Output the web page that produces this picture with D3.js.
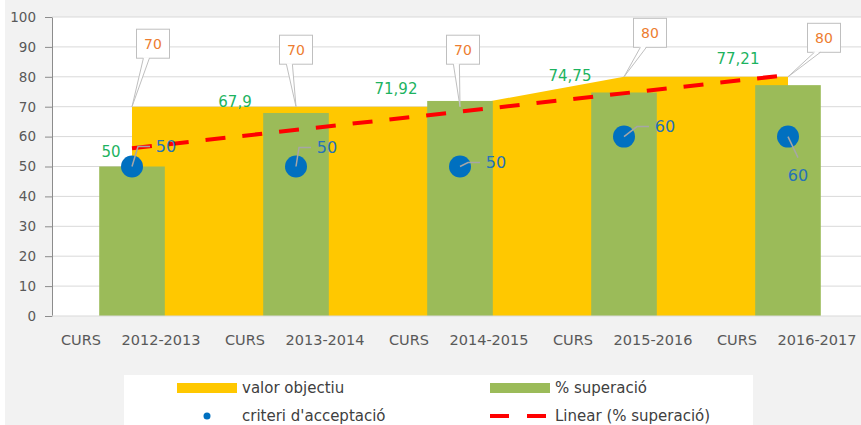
<!DOCTYPE html>
<html>
<head>
<meta charset="utf-8">
<script src="https://cdn.jsdelivr.net/npm/d3@7"></script>
<style>
  html, body { margin: 0; padding: 0; background: #fff; }
  svg { display: block; font-family: "DejaVu Sans", sans-serif; }
</style>
</head>
<body>
<div id="chart"></div>
<script>
// chart data
const categories = ['CURS 2012-2013', 'CURS 2013-2014', 'CURS 2014-2015', 'CURS 2015-2016', 'CURS 2016-2017'];
const valorObjectiu = [70, 70, 70, 80, 80];
const superacio = [50, 67.9, 71.92, 74.75, 77.21];
const criteri = [50, 50, 50, 60, 60];
const yTicks = [0, 10, 20, 30, 40, 50, 60, 70, 80, 90, 100];

// hand placed label offsets (px), as in the original sheet
const calloutDx = [21, 0, 3, 26, 36];
const calloutDy = [-63, -57, -57, -44, -39];
const supDx = [-21, -61, -64, -54, -50];
const supDy = [-15, -11, -12, -17, -27];
const criDx = [34, 31, 36, 41, 10];
const criDy = [-20, -19, -4, -10, 39];

const W = 861, H = 425;
const plot = { left: 52, top: 17, right: 861, bottom: 316 };

const svg = d3.select('#chart').append('svg')
  .attr('width', W)
  .attr('height', H);

svg.append('rect').attr('width', W).attr('height', H).attr('fill', '#f2f2f2');
svg.append('rect').attr('width', 5).attr('height', H).attr('fill', '#fff');
svg.append('rect')
  .attr('x', plot.left).attr('y', plot.top)
  .attr('width', plot.right - plot.left).attr('height', plot.bottom - plot.top)
  .attr('fill', '#fff');

const x = d3.scaleBand()
  .domain(categories)
  .range([50, 870]);

const y = d3.scaleLinear()
  .domain([0, 100])
  .range([plot.bottom, plot.top]);

const cx = (i) => x(categories[i]) + x.bandwidth() / 2;
const fmt = (v) => String(v).replace('.', ',');

// gridlines
svg.append('g')
  .selectAll('line')
  .data(yTicks.slice(1))
  .enter()
  .append('line')
  .attr('x1', plot.left).attr('x2', plot.right)
  .attr('y1', (d) => y(d)).attr('y2', (d) => y(d))
  .attr('stroke', '#d9d9d9')
  .attr('stroke-width', 1);

// valor objectiu area
const area = d3.area()
  .x((d, i) => cx(i))
  .y0(y(0))
  .y1((d) => y(d));

svg.append('path')
  .datum(valorObjectiu)
  .attr('d', area)
  .attr('fill', '#ffc800');

// % superacio bars
const barW = x.bandwidth() * 0.4;
svg.selectAll('.bar')
  .data(superacio)
  .enter()
  .append('rect')
  .attr('class', 'bar')
  .attr('x', (d, i) => cx(i) - barW / 2)
  .attr('y', (d) => y(d))
  .attr('width', barW)
  .attr('height', (d) => y(0) - y(d))
  .attr('fill', '#9bbb59');

// axes
const yAxis = svg.append('g')
  .attr('transform', `translate(${plot.left},0)`)
  .call(d3.axisLeft(y).tickValues(yTicks).tickSizeInner(7).tickSizeOuter(0).tickPadding(9));
yAxis.select('.domain').attr('stroke', '#8c8c8c');
yAxis.selectAll('.tick line').attr('stroke', '#8c8c8c');
yAxis.selectAll('.tick text')
  .attr('fill', '#595959')
  .style('font-size', '13.5px')
  .style('font-family', '"DejaVu Sans", sans-serif');

const xAxis = svg.append('g')
  .attr('transform', `translate(0,${plot.bottom})`)
  .call(d3.axisBottom(x).tickSize(0).tickPadding(0));
xAxis.select('.domain').attr('stroke', '#d9d9d9').attr('d', `M${plot.left},0H${plot.right}`);
xAxis.selectAll('.tick text').each(function (d) {
  const parts = d.split(' ');
  const t = d3.select(this)
    .text(null)
    .attr('y', 29)
    .attr('dy', null)
    .attr('fill', '#595959')
    .style('font-size', '14.5px')
    .style('font-family', '"DejaVu Sans", sans-serif');
  t.append('tspan').attr('x', -51).attr('text-anchor', 'middle').text(parts[0]);
  t.append('tspan').attr('x', 29).attr('text-anchor', 'middle').text(parts[1]);
});

// linear trendline of % superacio
const idx = superacio.map((d, i) => i + 1);
const mx = d3.mean(idx), my = d3.mean(superacio);
const slope = d3.sum(idx, (k, i) => (k - mx) * (superacio[i] - my)) / d3.sum(idx, (k) => (k - mx) ** 2);
const trend = idx.map((k) => my + slope * (k - mx));
const trendEnds = [0, trend.length - 1];

svg.append('path')
  .datum(trendEnds)
  .attr('d', d3.line().x((i) => cx(i)).y((i) => y(trend[i])))
  .attr('fill', 'none')
  .attr('stroke', '#ff0000')
  .attr('stroke-width', 4)
  .attr('stroke-dasharray', '20 17');

// criteri d'acceptacio points
svg.selectAll('.dot')
  .data(criteri)
  .enter()
  .append('circle')
  .attr('class', 'dot')
  .attr('cx', (d, i) => cx(i))
  .attr('cy', (d) => y(d))
  .attr('r', 11)
  .attr('fill', '#0070c0');

// leaders + labels for criteri
criteri.forEach((v, i) => {
  const px = cx(i), py = y(v);
  const lx = px + criDx[i], ly = py + criDy[i];
  let pts;
  if (Math.abs(criDy[i]) > Math.abs(criDx[i])) {
    pts = [[px, py], [lx, ly - 18]];
  } else {
    pts = [[px, py], [lx - 28, ly], [lx - 16, ly]];
  }
  svg.append('path')
    .attr('d', d3.line()(pts))
    .attr('fill', 'none')
    .attr('stroke', '#a6a6a6')
    .attr('stroke-width', 1.5);
  svg.append('text')
    .attr('x', lx).attr('y', ly)
    .attr('dy', '0.36em')
    .attr('text-anchor', 'middle')
    .attr('fill', '#2672b8')
    .style('font-size', '16px')
    .text(fmt(v));
});

// labels for % superacio
svg.selectAll('.sup-label')
  .data(superacio)
  .enter()
  .append('text')
  .attr('class', 'sup-label')
  .attr('x', (d, i) => cx(i) + supDx[i])
  .attr('y', (d, i) => y(d) + supDy[i])
  .attr('dy', '0.36em')
  .attr('text-anchor', 'middle')
  .attr('fill', '#1db35f')
  .style('font-size', '15px')
  .text((d) => fmt(d));

// callouts for valor objectiu
const boxW = 33, boxH = 29;
valorObjectiu.forEach((v, i) => {
  const px = cx(i), py = y(v);
  const bx = px + calloutDx[i] - boxW / 2;
  const by = py + calloutDy[i] - boxH / 2;
  const baseX = bx + boxW * 0.3;
  const g = svg.append('g');
  g.append('rect')
    .attr('x', bx).attr('y', by)
    .attr('width', boxW).attr('height', boxH)
    .attr('fill', '#fff')
    .attr('stroke', '#bfbfbf');
  g.append('path')
    .attr('d', `M${baseX - 3},${by + boxH - 1}L${px},${py}L${baseX + 3},${by + boxH - 1}Z`)
    .attr('fill', '#fff');
  g.append('path')
    .attr('d', `M${baseX - 3},${by + boxH}L${px},${py}L${baseX + 3},${by + boxH}`)
    .attr('fill', 'none')
    .attr('stroke', '#bfbfbf');
  g.append('text')
    .attr('x', bx + boxW / 2).attr('y', by + boxH / 2)
    .attr('dy', '0.36em')
    .attr('text-anchor', 'middle')
    .attr('fill', '#ed7d31')
    .style('font-size', '14px')
    .text(fmt(v));
});

// legend
const legend = svg.append('g');
legend.append('rect')
  .attr('x', 124).attr('y', 375)
  .attr('width', 629).attr('height', 60)
  .attr('fill', '#fff');

const legendItems = [
  { name: 'valor objectiu', kind: 'area', color: '#ffc800', x: 177, y: 388 },
  { name: '% superació', kind: 'bar', color: '#9bbb59', x: 490, y: 388 },
  { name: "criteri d'acceptació", kind: 'dot', color: '#0070c0', x: 177, y: 416 },
  { name: 'Linear (% superació)', kind: 'trend', color: '#ff0000', x: 490, y: 416 }
];

legendItems.forEach((it) => {
  if (it.kind === 'area' || it.kind === 'bar') {
    legend.append('rect')
      .attr('x', it.x).attr('y', it.y - 5)
      .attr('width', 60).attr('height', 10)
      .attr('fill', it.color);
  } else if (it.kind === 'dot') {
    legend.append('circle')
      .attr('cx', it.x + 30).attr('cy', it.y)
      .attr('r', 3.5)
      .attr('fill', it.color);
  } else {
    legend.append('line')
      .attr('x1', it.x).attr('x2', it.x + 56)
      .attr('y1', it.y).attr('y2', it.y)
      .attr('stroke', it.color)
      .attr('stroke-width', 4)
      .attr('stroke-dasharray', '19 18');
  }
  legend.append('text')
    .attr('x', it.x + 65).attr('y', it.y)
    .attr('dy', '0.36em')
    .attr('fill', '#404040')
    .style('font-size', '15px')
    .text(it.name);
});
</script>
</body>
</html>
